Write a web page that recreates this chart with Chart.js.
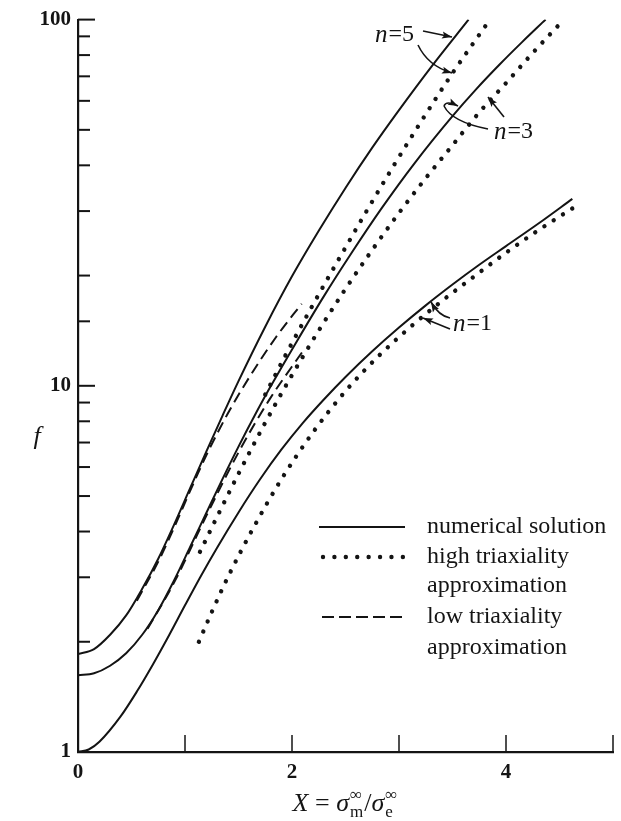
<!DOCTYPE html>
<html><head><meta charset="utf-8">
<script src="https://cdn.jsdelivr.net/npm/chart.js@4/dist/chart.umd.min.js"></script>
<style>html,body{margin:0;padding:0;background:#fff;}#wrap{width:621px;height:821px;}</style>
</head><body><div id="wrap"><canvas id="c" width="621" height="821"></canvas></div>
<script>
// ---- data (X = sigma_m/sigma_e, f) ----
const n5SolidX = [0, 0.15, 0.3, 0.45, 0.6, 0.75, 0.9, 1.05, 1.2, 1.35, 1.5, 1.75, 2.0, 2.25, 2.5, 2.75, 3.0, 3.3, 3.65];
const n5SolidF = [1.85, 1.91, 2.09, 2.36, 2.79, 3.37, 4.19, 5.27, 6.62, 8.28, 10.3, 14.5, 19.9, 26.5, 34.7, 44.7, 56.6, 74.2, 100];
const n3SolidX = [0, 0.15, 0.3, 0.45, 0.6, 0.75, 0.9, 1.05, 1.2, 1.35, 1.5, 1.65, 1.79, 2.05, 2.3, 2.55, 2.84, 3.15, 3.5, 3.72, 3.94, 4.15, 4.37];
const n3SolidF = [1.62, 1.64, 1.72, 1.86, 2.09, 2.44, 2.95, 3.64, 4.50, 5.56, 6.82, 8.28, 9.84, 13.3, 17.6, 22.9, 30.6, 40.7, 54.5, 64.5, 75.4, 86.8, 100];
const n1SolidX = [0, 0.1, 0.2, 0.4, 0.55, 0.7, 0.85, 1.0, 1.15, 1.3, 1.5, 1.7, 1.9, 2.1, 2.3, 2.5, 2.75, 3.0, 3.25, 3.5, 3.75, 4.0, 4.3, 4.62];
const n1SolidF = [1.0, 1.016, 1.067, 1.253, 1.462, 1.734, 2.08, 2.515, 3.03, 3.614, 4.51, 5.546, 6.69, 7.91, 9.19, 10.57, 12.42, 14.42, 16.58, 18.9, 21.4, 24.07, 27.7, 32.4];
const n5DotX = [1.75, 1.95, 2.2, 2.45, 2.7, 2.95, 3.2, 3.5, 3.85];
const n5DotF = [9.46, 12.28, 16.73, 22.5, 30.1, 39.9, 52.3, 71.4, 100];
const n3DotX = [1.14, 1.3, 1.5, 1.75, 2.0, 2.25, 2.5, 2.75, 3.0, 3.25, 3.5, 3.75, 4.0, 4.25, 4.54];
const n3DotF = [3.52, 4.39, 5.75, 7.93, 10.7, 14.15, 18.39, 23.5, 29.65, 36.9, 45.4, 55.8, 67.1, 81.1, 100];
const n1DotX = [1.13, 1.25, 1.4, 1.65, 1.9, 2.2, 2.5, 2.8, 3.1, 3.4, 3.7, 4.0, 4.3, 4.62];
const n1DotF = [2.0, 2.41, 3.0, 4.15, 5.55, 7.49, 9.67, 11.98, 14.42, 17.04, 19.87, 23.09, 26.57, 30.5];
const n5DashX = [0.55, 0.75, 0.9, 1.05, 1.2, 1.4, 1.6, 1.85, 2.09];
const n5DashF = [2.59, 3.31, 4.11, 5.18, 6.47, 8.40, 10.54, 13.57, 16.75];
const n3DashX = [0.65, 0.9, 1.2, 1.5, 1.79, 2.1];
const n3DashF = [2.17, 2.91, 4.42, 6.58, 9.18, 12.42];

const xTickLabels = ['0', '2', '4'];
const yTickLabels = ['1', '10', '100'];
const legendLabels = [['numerical solution'], ['high triaxiality', 'approximation'], ['low triaxiality', 'approximation']];
const curveLabels = ['n=5', 'n=3', 'n=1'];

const INK = '#141414';
const pts = (xs, fs) => xs.map((x, i) => ({x: x, y: fs[i]}));
const solid = (xs, fs) => ({data: pts(xs, fs), borderColor: INK, borderWidth: 2, pointRadius: 0, fill: false, cubicInterpolationMode: 'monotone'});
const dotted = (xs, fs) => ({data: pts(xs, fs), borderColor: INK, borderWidth: 4.4, borderDash: [0.01, 11], borderCapStyle: 'round', pointRadius: 0, fill: false, cubicInterpolationMode: 'monotone'});
const dashed = (xs, fs) => ({data: pts(xs, fs), borderColor: INK, borderWidth: 2, borderDash: [11, 6], pointRadius: 0, fill: false, cubicInterpolationMode: 'monotone'});

function arrowHead(ctx, x, y, ang) {
  const L = 10, W = 3.5;
  ctx.save(); ctx.translate(x, y); ctx.rotate(ang);
  ctx.beginPath(); ctx.moveTo(0, 0); ctx.lineTo(-L, -W); ctx.lineTo(-L + 2, 0); ctx.lineTo(-L, W); ctx.closePath(); ctx.fill();
  ctx.restore();
}
function straightArrow(ctx, x1, y1, x2, y2) {
  ctx.beginPath(); ctx.moveTo(x1, y1); ctx.lineTo(x2, y2); ctx.stroke();
  arrowHead(ctx, x2, y2, Math.atan2(y2 - y1, x2 - x1));
}
function curveArrow(ctx, x1, y1, cx, cy, x2, y2) {
  ctx.beginPath(); ctx.moveTo(x1, y1); ctx.quadraticCurveTo(cx, cy, x2, y2); ctx.stroke();
  arrowHead(ctx, x2, y2, Math.atan2(y2 - cy, x2 - cx));
}
function nLabel(ctx, txt, x, y) {
  const parts = txt.split('=');
  ctx.textBaseline = 'middle'; ctx.textAlign = 'left';
  ctx.font = 'italic 25px "Liberation Serif"';
  ctx.fillText(parts[0], x, y);
  let w = ctx.measureText(parts[0]).width + 1;
  ctx.font = '24px "Liberation Serif"';
  ctx.fillText('=' + parts[1], x + w, y);
}

const decor = {
  id: 'decor',
  afterDraw(chart) {
    const ctx = chart.ctx, a = chart.chartArea;
    const xs = chart.scales.x, ys = chart.scales.y;
    ctx.save();
    ctx.strokeStyle = INK; ctx.fillStyle = INK;
    ctx.lineWidth = 2;
    ys.ticks.forEach(t => {
      if (t.value === 1) return;
      const p = ys.getPixelForValue(t.value);
      const major = Math.abs(Math.log10(t.value) - Math.round(Math.log10(t.value))) < 1e-6;
      ctx.beginPath(); ctx.moveTo(a.left, p); ctx.lineTo(a.left + (major ? 17 : 12), p); ctx.stroke();
    });
    ctx.lineWidth = 1.5;
    xs.ticks.forEach(t => {
      if (t.value === 0) return;
      const p = xs.getPixelForValue(t.value);
      ctx.beginPath(); ctx.moveTo(p, a.bottom); ctx.lineTo(p, a.bottom - 17); ctx.stroke();
    });
    // legend
    ctx.lineWidth = 2; ctx.setLineDash([]);
    ctx.beginPath(); ctx.moveTo(319, 527); ctx.lineTo(405, 527); ctx.stroke();
    ctx.lineWidth = 4.4; ctx.lineCap = 'round'; ctx.setLineDash([0.01, 11.4]);
    ctx.beginPath(); ctx.moveTo(323, 557); ctx.lineTo(405, 557); ctx.stroke();
    ctx.lineWidth = 2; ctx.lineCap = 'butt'; ctx.setLineDash([12, 5]);
    ctx.beginPath(); ctx.moveTo(322, 617); ctx.lineTo(405, 617); ctx.stroke();
    ctx.setLineDash([]);
    ctx.font = '24px "Liberation Serif"'; ctx.textBaseline = 'middle'; ctx.textAlign = 'left';
    const rows = [[527], [557, 586], [617, 648]];
    legendLabels.forEach((lines, i) => lines.forEach((s, j) => ctx.fillText(s, 427, rows[i][j])));
    // curve annotations
    ctx.lineWidth = 1.6;
    nLabel(ctx, curveLabels[0], 375, 35);
    straightArrow(ctx, 423, 31, 452, 37);
    curveArrow(ctx, 418, 45, 428, 66, 452, 73);
    nLabel(ctx, curveLabels[1], 494, 132);
    straightArrow(ctx, 504, 117, 488, 97);
    ctx.beginPath(); ctx.moveTo(488, 129); ctx.quadraticCurveTo(452, 122, 444, 106); ctx.stroke();
    curveArrow(ctx, 444, 106, 446, 100, 458, 106);
    nLabel(ctx, curveLabels[2], 453, 324);
    curveArrow(ctx, 450, 318, 439, 316, 431, 302);
    straightArrow(ctx, 450, 329, 423, 318);
    // y axis title
    ctx.font = 'italic 26px "Liberation Serif"'; ctx.textAlign = 'center';
    ctx.fillText('f', 37, 437);
    // x axis title
    const cy = 803;
    const big = '26px "Liberation Serif"', bigI = 'italic 26px "Liberation Serif"', small = '17px "Liberation Serif"';
    const segs = [[bigI, 'X', 0], [big, ' = ', 0], [bigI, 'σ', 0], ['script', '∞', 'm'], [big, '/', 0], [bigI, 'σ', 0], ['script', '∞', 'e']];
    let total = 0;
    const widths = segs.map(s => {
      let w;
      if (s[0] === 'script') { ctx.font = small; w = Math.max(ctx.measureText(s[1]).width, ctx.measureText(s[2]).width) + 2; }
      else { ctx.font = s[0]; w = ctx.measureText(s[1]).width; }
      total += w; return w;
    });
    let cx = (a.left + a.right) / 2 - total / 2;
    ctx.textAlign = 'left'; ctx.textBaseline = 'alphabetic';
    segs.forEach((s, i) => {
      if (s[0] === 'script') {
        ctx.font = small; ctx.fillText(s[1], cx + 1, cy - 3); ctx.fillText(s[2], cx + 1, cy + 14);
      } else { ctx.font = s[0]; ctx.fillText(s[1], cx, cy + 8); }
      cx += widths[i];
    });
    ctx.restore();
  }
};

new Chart(document.getElementById('c'), {
  type: 'line',
  data: {datasets: [
    solid(n5SolidX, n5SolidF), solid(n3SolidX, n3SolidF), solid(n1SolidX, n1SolidF),
    dotted(n5DotX, n5DotF), dotted(n3DotX, n3DotF), dotted(n1DotX, n1DotF),
    dashed(n5DashX, n5DashF), dashed(n3DashX, n3DashF)
  ]},
  options: {
    responsive: false, animation: false, devicePixelRatio: 1,
    layout: {padding: {top: 14, right: 8, left: 0, bottom: 0}},
    plugins: {legend: {display: false}, tooltip: {enabled: false}},
    scales: {
      x: {type: 'linear', min: 0, max: 5,
        border: {display: true, color: INK, width: 2.2},
        grid: {drawOnChartArea: false, drawTicks: false},
        ticks: {stepSize: 1, autoSkip: false, maxRotation: 0, padding: 8, color: INK,
          font: {family: 'Liberation Serif', weight: 'bold', size: 21},
          callback: v => xTickLabels.includes(String(v)) ? String(v) : ''},
        afterFit(s) { s.height = 69; }},
      y: {type: 'logarithmic', min: 1, max: 100,
        border: {display: true, color: INK, width: 2.2},
        grid: {drawOnChartArea: false, drawTicks: false},
        ticks: {autoSkip: false, padding: 7, color: INK,
          font: {family: 'Liberation Serif', weight: 'bold', size: 21},
          callback: v => yTickLabels.includes(String(v)) ? String(v) : ''},
        afterFit(s) { s.width = 78; }}
    }
  },
  plugins: [decor]
});
</script></body></html>
